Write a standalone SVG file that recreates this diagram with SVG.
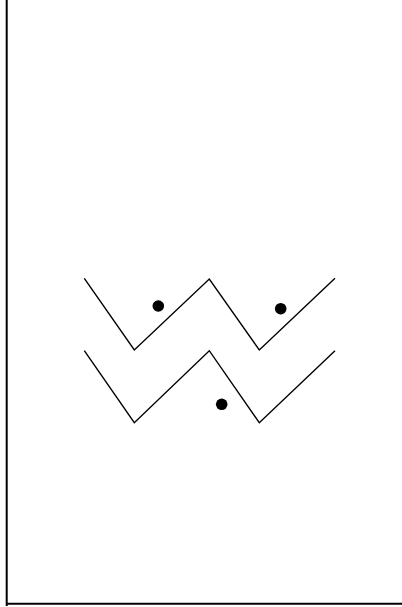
<svg xmlns="http://www.w3.org/2000/svg" width="402" height="607" viewBox="0 0 402 607">
<style>
.frame{stroke:#000;stroke-width:2;fill:none}
.zig{stroke:#000;stroke-width:1.4;fill:none;stroke-linejoin:miter}
.dot{fill:#000}
</style>
<rect width="402" height="607" fill="#fff"/>
<g id="frame">
<line class="frame" x1="6.7" y1="0" x2="6.7" y2="606"/>
<line class="frame" x1="6" y1="603.7" x2="402" y2="603.7"/>
</g>
<g id="zigzag-top">
<polyline class="zig" points="84.3,278.3 134.3,350 209.3,279 259.3,350 335,278.3"/>
</g>
<g id="zigzag-bottom">
<polyline class="zig" points="84.3,350.7 134.3,422.7 209.3,350.7 259.3,422.7 335,350.7"/>
</g>
<g id="dots">
<circle class="dot" cx="158.3" cy="306" r="5.8"/>
<circle class="dot" cx="280.7" cy="308.7" r="5.8"/>
<circle class="dot" cx="221.7" cy="404.3" r="5.8"/>
</g>
</svg>
